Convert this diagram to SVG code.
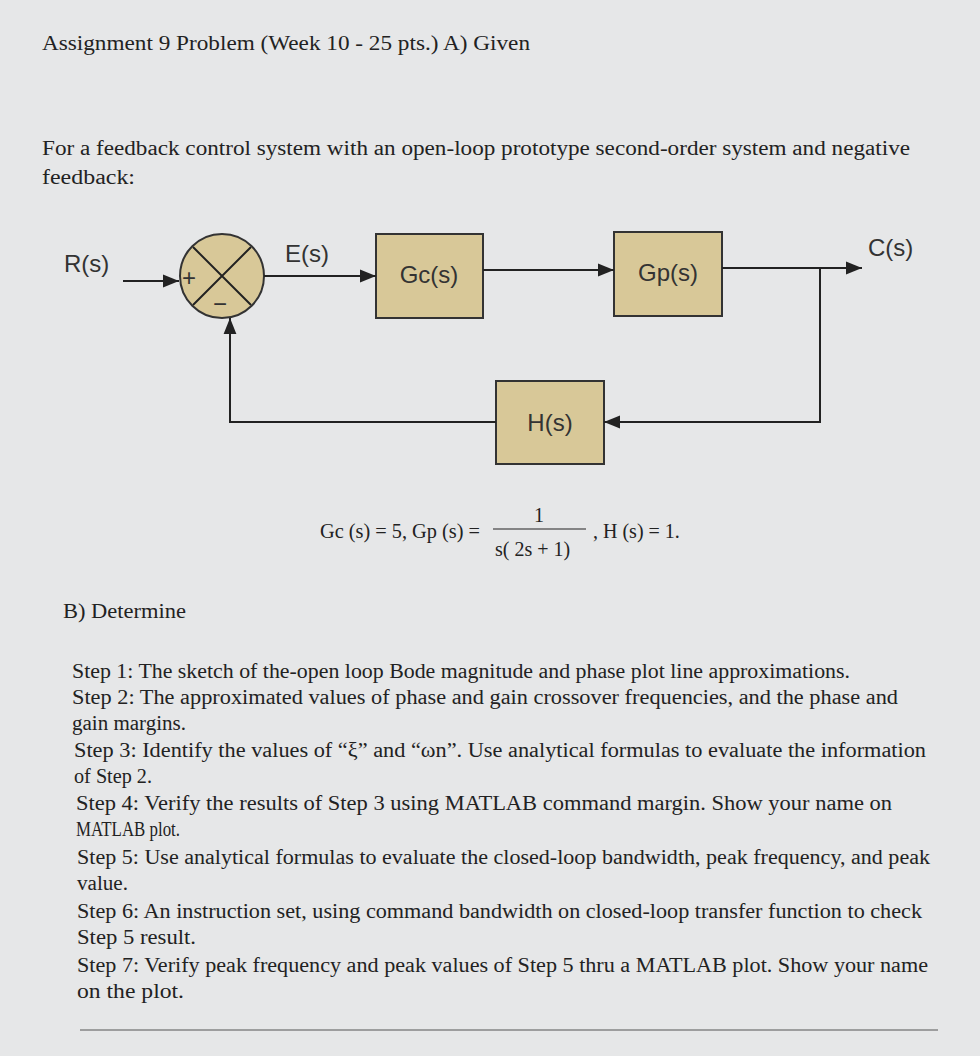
<svg xmlns="http://www.w3.org/2000/svg" width="980" height="1056" viewBox="0 0 980 1056">
<defs><marker id="ar" viewBox="0 0 10 10" refX="10" refY="5" markerWidth="8" markerHeight="8" orient="auto"><path d="M0,1 L10,5 L0,9 z" fill="#222"/></marker></defs>
<style>
.t{font-family:"Liberation Serif",serif;font-size:20px;fill:#222}
.s{font-family:"Liberation Sans",sans-serif;font-size:24px;fill:#333}
.b{fill:#d8c898;stroke:#333;stroke-width:2}
.l{stroke:#222;stroke-width:2;fill:none}
</style>
<rect width="980" height="1056" fill="#e6e7e8"/>
<text class="t" x="42" y="50" textLength="488" lengthAdjust="spacingAndGlyphs">Assignment 9 Problem (Week 10 - 25 pts.) A) Given</text>
<text class="t" x="42" y="155" textLength="868" lengthAdjust="spacingAndGlyphs">For a feedback control system with an open-loop prototype second-order system and negative</text>
<text class="t" x="42" y="184" textLength="93" lengthAdjust="spacingAndGlyphs">feedback:</text>
<g id="sum"><circle class="b" cx="222" cy="276" r="42"/><path class="l" d="M193,247 L251,305 M251,247 L193,305" stroke-width="1.5"/><text class="s" x="182" y="286" font-size="20">+</text><text class="s" x="213" y="312" font-size="20">−</text></g>
<g id="gc"><rect class="b" x="376" y="234" width="107" height="84"/><text class="s" x="429" y="283" text-anchor="middle">Gc(s)</text></g>
<g id="gp"><rect class="b" x="614" y="232" width="108" height="84"/><text class="s" x="668" y="281" text-anchor="middle">Gp(s)</text></g>
<g id="h"><rect class="b" x="496" y="381" width="108" height="83"/><text class="s" x="550" y="431" text-anchor="middle">H(s)</text></g>
<g id="labels"><text class="s" x="64" y="272">R(s)</text><text class="s" x="285" y="262">E(s)</text><text class="s" x="868" y="256">C(s)</text></g>
<g id="connectors">
<path class="l" d="M123,281 L179,281" marker-end="url(#ar)"/>
<path class="l" d="M264,276 L376,276" marker-end="url(#ar)"/>
<path class="l" d="M483,270 L614,270" marker-end="url(#ar)"/>
<path class="l" d="M722,268 L862,268" marker-end="url(#ar)"/>
<path class="l" d="M820,268 L820,422 L604,422" marker-end="url(#ar)"/>
<path class="l" d="M496,422 L230,422 L230,318" marker-end="url(#ar)"/>
</g>
<g id="eq">
<text class="t" x="320" y="538" textLength="160" lengthAdjust="spacingAndGlyphs">Gc (s) = 5, Gp (s) =</text>
<text class="t" x="539" y="522" text-anchor="middle" font-size="16">1</text>
<line x1="493" y1="529" x2="586" y2="529" stroke="#222" stroke-width="1.2"/>
<text class="t" x="495" y="556">s( 2s + 1)</text>
<text class="t" x="593" y="538">, H (s) = 1.</text>
</g>
<text class="t" x="63" y="618" textLength="123" lengthAdjust="spacingAndGlyphs">B) Determine</text>
<g>
<text class="t" x="72" y="678" textLength="778" lengthAdjust="spacingAndGlyphs">Step 1: The sketch of the-open loop Bode magnitude and phase plot line approximations.</text>
<text class="t" x="72" y="704" textLength="826" lengthAdjust="spacingAndGlyphs">Step 2: The approximated values of phase and gain crossover frequencies, and the phase and</text>
<text class="t" x="72" y="730" textLength="114" lengthAdjust="spacingAndGlyphs">gain margins.</text>
<text class="t" x="74" y="757" textLength="852" lengthAdjust="spacingAndGlyphs">Step 3: Identify the values of “ξ” and “ωn”. Use analytical formulas to evaluate the information</text>
<text class="t" x="74" y="783" textLength="78" lengthAdjust="spacingAndGlyphs">of Step 2.</text>
<text class="t" x="76" y="810" textLength="816" lengthAdjust="spacingAndGlyphs">Step 4: Verify the results of Step 3 using MATLAB command margin.  Show your name on</text>
<text class="t" x="76" y="836" textLength="104" lengthAdjust="spacingAndGlyphs">MATLAB plot.</text>
<text class="t" x="77" y="864" textLength="853" lengthAdjust="spacingAndGlyphs">Step 5: Use analytical formulas to evaluate the closed-loop bandwidth, peak frequency, and peak</text>
<text class="t" x="77" y="890" textLength="51" lengthAdjust="spacingAndGlyphs">value.</text>
<text class="t" x="77" y="918" textLength="845" lengthAdjust="spacingAndGlyphs">Step 6: An instruction set, using command bandwidth on closed-loop transfer function to check</text>
<text class="t" x="77" y="944" textLength="119" lengthAdjust="spacingAndGlyphs">Step 5 result.</text>
<text class="t" x="77" y="972" textLength="851" lengthAdjust="spacingAndGlyphs">Step 7: Verify peak frequency and peak values of Step 5 thru a MATLAB plot. Show your name</text>
<text class="t" x="77" y="998" textLength="107" lengthAdjust="spacingAndGlyphs">on the plot.</text>
</g>
<line x1="80" y1="1030" x2="938" y2="1030" stroke="#555" stroke-width="1"/>
</svg>
